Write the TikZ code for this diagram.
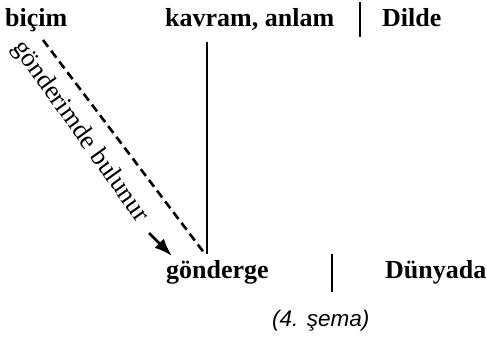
\documentclass[tikz,border=0pt]{standalone}
\usepackage{fontspec}
\setmainfont{Liberation Serif}
\newfontfamily\capfont{Liberation Sans}
\usetikzlibrary{arrows.meta}
\tikzset{
  term/.style={font=\fontsize{26}{30}\selectfont\bfseries, inner sep=0pt, anchor=base west},
  sepbar/.style={line width=2.8pt},
  link/.style={line width=2.5pt},
  refline/.style={line width=2.6pt, dash pattern=on 8.5pt off 5pt},
}
\begin{document}
\begin{tikzpicture}[x=1pt,y=-1pt]
\useasboundingbox (0,0) rectangle (487,340);
\node[term] (bicim) at (5,26) {biçim};
\node[term] (kavram) at (165,26) {kavram, anlam};
\node[term] (dilde) at (382,26) {Dilde};
\node[term] (gonderge) at (166,278) {gönderge};
\node[term] (dunyada) at (385,278) {Dünyada};
\node[font=\capfont\itshape\fontsize{22.5}{26}\selectfont, inner sep=0pt, anchor=base west] (sema) at (272,326) {(4. şema)};
\coordinate (b1t) at (360,2);
\coordinate (b1b) at (360,37);
\coordinate (b2t) at (332,254);
\coordinate (b2b) at (332,292);
\draw[sepbar] (b1t) -- (b1b);
\draw[sepbar] (b2t) -- (b2b);
\coordinate (ktop) at (207,42);
\coordinate (kbot) at (207,254);
\draw[link] (ktop) -- (kbot);
\coordinate (dtop) at (43,40);
\coordinate (dbot) at (205,254);
\draw[refline] (dtop) -- (dbot);
\coordinate (as) at (149,233);
\coordinate (ae) at (172,256);
\draw[line width=2.6pt, -{Latex[length=18pt,width=13pt]}] (as) -- (ae);
\node[font=\fontsize{26.5}{30}\selectfont, rotate=-54.5, inner sep=0pt] (lbl) at (80,132) {gönderimde bulunur};
\end{tikzpicture}
\end{document}
